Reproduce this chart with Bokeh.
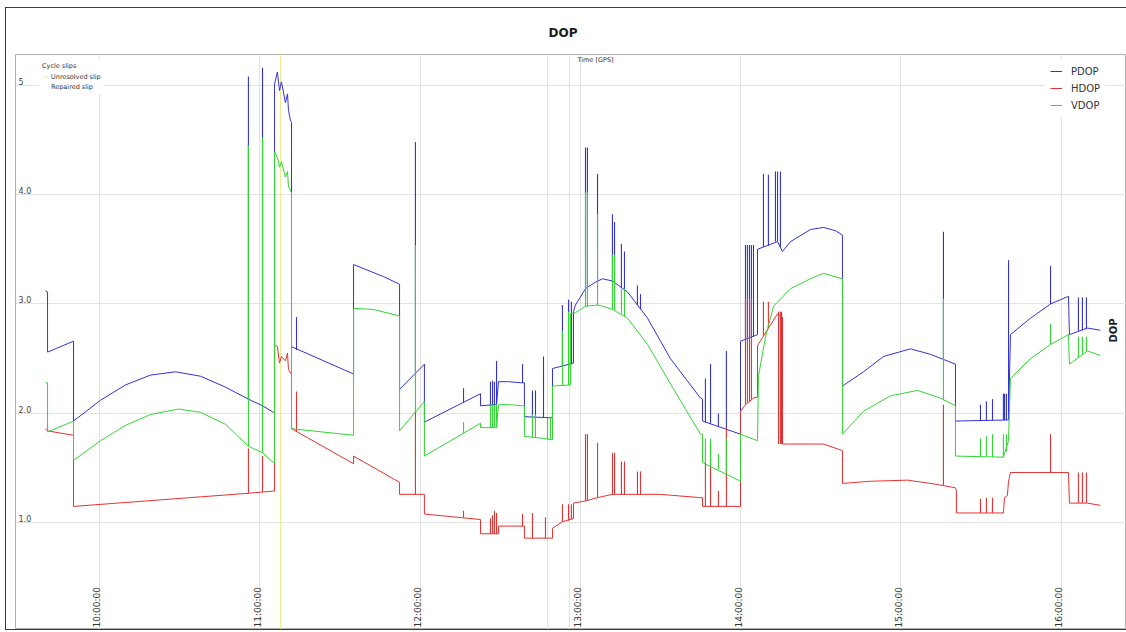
import math
from bokeh.plotting import figure
from bokeh.models import Range1d, Grid, FixedTicker, Legend, LegendItem, Label
from bokeh.core.properties import value
from bokeh.embed import file_html
from bokeh.resources import INLINE

FONT = "DejaVu Sans"

# ---------------- data (time in GPS hours, DOP values) ----------------
hour_ticks = [10, 11, 12, 13, 14, 15, 16]
hour_labels = ["10:00:00", "11:00:00", "12:00:00", "13:00:00", "14:00:00", "15:00:00", "16:00:00"]
dop_ticks = [5, 4, 3, 2, 1]
dop_labels = ["5", "4.0", "3.0", "2.0", "1.0"]

pdop_t = [9.663, 9.676, 9.676, 9.838, 9.838, 10.006, 10.162, 10.318, 10.474, 10.630, 10.786, 10.929, 11.017,
          11.085, 11.092, 11.092, 11.110, 11.123, 11.135, 11.160, 11.173, 11.179, 11.191, 11.198, 11.198, 11.585,
          11.585, 11.772, 11.872, 11.872, 12.027, 12.027, 12.377, 12.377, 12.477, 12.489, 12.552, 12.626, 12.651,
          12.651, 12.813, 12.826, 12.826, 12.957, 12.957, 12.969, 13.032, 13.094, 13.138, 13.200, 13.294, 13.419,
          13.562, 13.749, 13.762, 13.762, 13.999, 13.999, 14.105, 14.105, 14.230, 14.261, 14.311, 14.435, 14.516,
          14.591, 14.635, 14.635, 14.766, 14.891, 15.059, 15.184, 15.340, 15.340, 15.671, 15.683, 15.808, 15.933,
          16.045, 16.051, 16.163, 16.244]
pdop_v = [3.12, 3.11, 2.56, 2.66, 1.93, 2.12, 2.26, 2.35, 2.38, 2.34, 2.24, 2.13, 2.07,
          2.01, 2.01, 5.01, 5.12, 4.95, 5.03, 4.84, 4.92, 4.77, 4.68, 4.66, 2.61, 2.36,
          3.36, 3.25, 3.18, 2.22, 2.45, 1.92, 2.18, 2.07, 2.08, 2.29, 2.29, 2.28, 2.28,
          1.97, 1.96, 1.96, 2.41, 2.46, 2.93, 2.99, 3.14, 3.20, 3.23, 3.21, 3.11, 2.87,
          2.50, 2.14, 2.13, 1.93, 1.81, 2.66, 2.72, 3.50, 3.57, 3.48, 3.57, 3.68, 3.70,
          3.67, 3.63, 2.25, 2.38, 2.52, 2.59, 2.54, 2.45, 1.93, 1.94, 2.72, 2.87, 3.00,
          3.07, 2.72, 2.78, 2.76]
pdop_spike_t = [10.929, 11.017, 11.229, 11.971, 12.271, 12.439, 12.452, 12.464, 12.477, 12.639, 12.701, 12.720,
                12.770, 12.888, 12.926, 12.944, 13.032, 13.044, 13.107, 13.200, 13.213, 13.256, 13.275, 13.356,
                13.375, 13.780, 13.812, 13.861, 13.911, 14.030, 14.042, 14.055, 14.067, 14.080,
                14.142, 14.173, 14.217, 14.230, 14.248, 15.265, 15.496, 15.533, 15.571, 15.639,
                15.646, 15.658, 15.671, 15.933, 16.107, 16.132, 16.157]
pdop_spike_lo = [2.13, 2.07, 2.58, 2.37, 2.10, 2.07, 2.07, 2.08, 2.08, 2.28, 1.97, 1.97,
                 1.96, 2.43, 2.44, 2.45, 3.14, 3.15, 3.21, 3.21, 3.20, 3.15, 3.13, 2.99,
                 2.95, 1.92, 1.91, 1.88, 1.86, 2.68, 2.68, 2.69, 2.70, 2.70,
                 3.52, 3.53, 3.57, 3.57, 3.52, 2.49, 1.93, 1.93, 1.94, 1.94,
                 1.94, 1.94, 1.94, 3.00, 2.75, 2.76, 2.77]
pdop_spike_hi = [5.08, 5.16, 2.88, 4.48, 2.23, 2.29, 2.30, 2.29, 2.48, 2.45, 2.21, 2.21,
                 2.52, 2.99, 3.04, 3.02, 4.43, 4.43, 4.19, 3.82, 3.75, 3.55, 3.48, 3.17,
                 3.09, 2.32, 2.45, 2.00, 2.57, 3.54, 3.54, 3.54, 3.54, 3.54,
                 4.19, 4.18, 4.21, 4.21, 4.21, 3.66, 2.08, 2.11, 2.13, 2.18,
                 2.18, 2.18, 3.40, 3.35, 3.06, 3.06, 3.06]

hdop_t = [9.663, 9.676, 9.838, 9.838, 10.474, 10.929, 11.085, 11.092, 11.092, 11.110, 11.123, 11.135, 11.160,
          11.173, 11.179, 11.198, 11.198, 11.585, 11.585, 11.872, 11.872, 12.027, 12.027, 12.377, 12.377, 12.489,
          12.489, 12.651, 12.651, 12.826, 12.826, 12.888, 12.957, 12.957, 13.032, 13.107, 13.200, 13.500, 13.749,
          13.762, 13.762, 13.999, 13.999, 14.030, 14.080, 14.105, 14.105, 14.230, 14.261, 14.261, 14.516, 14.635,
          14.635, 14.810, 15.041, 15.184, 15.265, 15.340, 15.346, 15.346, 15.639, 15.646, 15.664, 15.671, 15.683,
          16.045, 16.051, 16.163, 16.244]
hdop_v = [1.86, 1.84, 1.80, 1.15, 1.22, 1.27, 1.29, 1.29, 2.63, 2.61, 2.46, 2.52, 2.48,
          2.55, 2.40, 2.36, 1.86, 1.54, 1.61, 1.37, 1.26, 1.26, 1.08, 1.03, 0.90, 0.90,
          0.97, 0.97, 0.86, 0.86, 0.95, 1.01, 1.04, 1.18, 1.20, 1.23, 1.26, 1.26, 1.23,
          1.23, 1.15, 1.15, 2.02, 2.08, 2.14, 2.15, 2.62, 2.91, 2.88, 1.72, 1.72, 1.66,
          1.36, 1.38, 1.39, 1.36, 1.34, 1.32, 1.29, 1.09, 1.09, 1.23, 1.25, 1.38, 1.46,
          1.46, 1.18, 1.18, 1.16]
hdop_spike_t = [10.929, 11.017, 11.229, 11.971, 12.271, 12.439, 12.452, 12.464, 12.477, 12.639, 12.701, 12.782,
                12.888, 12.926, 12.944, 13.032, 13.044, 13.107, 13.200, 13.213, 13.256, 13.275, 13.356, 13.375,
                13.780, 13.812, 13.861, 13.911, 14.030, 14.042, 14.055, 14.067,
                14.142, 14.173, 14.236, 14.248, 14.255, 15.265, 15.496, 15.533, 15.571, 15.933, 16.107, 16.132,
                16.157]
hdop_spike_lo = [1.27, 1.28, 1.83, 1.26, 1.05, 0.90, 0.90, 0.90, 0.90, 0.97, 0.86, 0.86,
                 1.01, 1.02, 1.03, 1.20, 1.20, 1.23, 1.26, 1.26, 1.26, 1.26, 1.26, 1.26,
                 1.15, 1.15, 1.15, 1.15, 2.08, 2.10, 2.11, 2.13,
                 2.71, 2.78, 1.72, 1.72, 1.72, 1.34, 1.09, 1.09, 1.09, 1.46, 1.18, 1.18,
                 1.18]
hdop_spike_hi = [1.68, 1.61, 2.20, 2.02, 1.11, 1.04, 1.07, 1.11, 1.09, 1.08, 1.09, 1.05,
                 1.17, 1.17, 1.17, 1.81, 1.81, 1.73, 1.64, 1.64, 1.56, 1.56, 1.47, 1.47,
                 1.56, 1.75, 1.29, 1.87, 3.05, 3.05, 3.05, 3.05,
                 3.02, 3.02, 2.93, 2.93, 2.93, 2.08, 1.22, 1.23, 1.23, 1.81, 1.46, 1.46,
                 1.46]

vdop_t = [9.663, 9.676, 9.676, 9.838, 9.838, 10.006, 10.162, 10.318, 10.493, 10.630, 10.786, 10.929, 11.017,
          11.085, 11.092, 11.092, 11.110, 11.123, 11.135, 11.160, 11.173, 11.179, 11.198, 11.198, 11.585, 11.585,
          11.709, 11.872, 11.872, 12.027, 12.027, 12.377, 12.377, 12.477, 12.489, 12.552, 12.639, 12.651, 12.651,
          12.782, 12.813, 12.826, 12.826, 12.938, 12.938, 12.969, 13.032, 13.107, 13.138, 13.200, 13.294, 13.419,
          13.562, 13.749, 13.762, 13.762, 13.999, 13.999, 14.105, 14.111, 14.155, 14.205, 14.311, 14.435, 14.516,
          14.635, 14.635, 14.766, 14.934, 15.103, 15.246, 15.340, 15.340, 15.639, 15.671, 15.683, 15.808, 15.933,
          16.045, 16.051, 16.163, 16.244]
vdop_v = [2.28, 2.28, 1.83, 1.93, 1.57, 1.75, 1.89, 1.99, 2.04, 2.01, 1.90, 1.70, 1.64,
          1.55, 1.55, 4.39, 4.34, 4.25, 4.30, 4.16, 4.21, 4.07, 4.02, 1.86, 1.80, 2.96,
          2.95, 2.89, 1.84, 2.11, 1.61, 1.91, 1.87, 1.87, 2.08, 2.08, 2.07, 2.07, 1.79,
          1.77, 1.76, 1.76, 2.25, 2.26, 2.91, 2.92, 2.98, 2.99, 2.98, 2.95, 2.87, 2.63,
          2.27, 1.81, 1.81, 1.55, 1.38, 1.81, 1.75, 2.34, 2.70, 2.98, 3.14, 3.23, 3.28,
          3.23, 1.81, 2.02, 2.16, 2.21, 2.14, 2.07, 1.61, 1.60, 1.75, 2.32, 2.50, 2.63,
          2.72, 2.45, 2.57, 2.53]
vdop_spike_t = [10.929, 11.017, 11.971, 12.271, 12.439, 12.452, 12.464, 12.477, 12.701, 12.720, 12.795, 12.813,
                12.888, 12.926, 13.032, 13.044, 13.107, 13.200, 13.213, 13.256, 13.275, 13.780, 13.812, 13.861,
                13.911, 15.265, 15.496, 15.533, 15.571, 15.639, 15.658, 15.933, 16.107, 16.132, 16.157]
vdop_spike_lo = [1.70, 1.64, 2.01, 1.82, 1.87, 1.87, 1.87, 1.87, 1.78, 1.78, 1.76, 1.76,
                 2.25, 2.26, 2.98, 2.98, 2.99, 2.95, 2.94, 2.91, 2.89, 1.54, 1.52, 1.49,
                 1.46, 2.12, 1.61, 1.61, 1.60, 1.60, 1.65, 2.63, 2.51, 2.54, 2.56]
vdop_spike_hi = [4.45, 4.52, 3.54, 1.92, 2.08, 2.08, 2.08, 2.08, 1.99, 1.99, 1.96, 1.96,
                 2.75, 2.93, 4.02, 4.02, 3.82, 3.45, 3.45, 3.14, 3.14, 1.77, 1.77, 1.63,
                 1.77, 3.05, 1.77, 1.79, 1.81, 1.81, 1.81, 2.82, 2.70, 2.70, 2.70]

unresolved_slip_t = [11.129, 12.795, 12.932]
repaired_slip_t = []

# ---------------- styling ----------------
X_MIN, X_MAX = 9.476, 16.407
Y_MIN, Y_MAX = 0.025, 5.28
BLUE, RED, GREEN = "#3232d4", "#e43232", "#32d632"
SLIP_COLOR = "#ecec8c"

p = figure(width=1120, height=621,
           x_range=Range1d(X_MIN, X_MAX), y_range=Range1d(Y_MIN, Y_MAX),
           x_axis_type=None, y_axis_type=None,
           toolbar_location=None, output_backend="svg",
           min_border_left=9, min_border_right=0, min_border_top=44, min_border_bottom=0,
           background_fill_color="white", border_fill_color="white",
           outline_line_color="#b0b0b0", outline_line_width=1,
           styles={"margin-left": "6px", "margin-top": "8px",
                   "outline": "1.5px solid #3a3a3a"})

p.title.text = "DOP"
p.title.align = "left"
p.title.offset = 533
p.title.text_font = FONT
p.title.text_font_size = "12px"
p.title.text_font_style = "bold"
p.title.text_color = "#1e1e1e"
p.title.standoff = 30

p.add_layout(Grid(dimension=0, ticker=FixedTicker(ticks=hour_ticks),
                  grid_line_color="#e2e2e2", grid_line_width=1))
p.add_layout(Grid(dimension=1, ticker=FixedTicker(ticks=dop_ticks),
                  grid_line_color="#e2e2e2", grid_line_width=1))

n_s = len(unresolved_slip_t)
slip_r = p.segment(x0=unresolved_slip_t, x1=unresolved_slip_t,
                   y0=[Y_MIN] * n_s, y1=[Y_MAX] * n_s,
                   line_color=SLIP_COLOR, line_width=1)
rep_r = p.segment(x0=repaired_slip_t, x1=repaired_slip_t, y0=[], y1=[],
                  line_color="#ffffff", line_width=1)

r_p = p.line(pdop_t, pdop_v, line_color=BLUE, line_width=1)
p.segment(x0=pdop_spike_t, x1=pdop_spike_t, y0=pdop_spike_lo, y1=pdop_spike_hi,
          line_color=BLUE, line_width=1.1)
r_h = p.line(hdop_t, hdop_v, line_color=RED, line_width=1)
p.segment(x0=hdop_spike_t, x1=hdop_spike_t, y0=hdop_spike_lo, y1=hdop_spike_hi,
          line_color=RED, line_width=1.1)
r_v = p.line(vdop_t, vdop_v, line_color=GREEN, line_width=1)
p.segment(x0=vdop_spike_t, x1=vdop_spike_t, y0=vdop_spike_lo, y1=vdop_spike_hi,
          line_color=GREEN, line_width=1.1)

# tick labels drawn inside the frame
p.text(x=[X_MIN] * len(dop_ticks), y=dop_ticks, text=dop_labels,
       x_offset=3, y_offset=-4, text_font=value(FONT), text_font_size="8px",
       text_color="#444444", text_align="left", text_baseline="middle")
p.text(x=hour_ticks, y=[Y_MIN] * len(hour_ticks), text=hour_labels,
       angle=math.pi / 2, x_offset=-2, y_offset=-2,
       text_font=value(FONT), text_font_size="9px", text_color="#333333",
       text_align="left", text_baseline="middle")

p.add_layout(Label(x=580, y=570, x_units="screen", y_units="screen", text="Time [GPS]",
                   text_font=FONT, text_font_size="6.5px", text_color="#333333",
                   text_align="center", text_baseline="middle"))
p.add_layout(Label(x=1098, y=299, x_units="screen", y_units="screen", text="DOP",
                   angle=math.pi / 2, text_font=FONT, text_font_size="10px",
                   text_font_style="bold", text_color="#222222",
                   text_align="center", text_baseline="middle"))

legend_main = Legend(items=[LegendItem(label="PDOP", renderers=[r_p]),
                            LegendItem(label="HDOP", renderers=[r_h]),
                            LegendItem(label="VDOP", renderers=[r_v])],
                     location=(1030, 512), padding=5, spacing=3, margin=0,
                     label_height=14, glyph_height=14, glyph_width=12, label_standoff=9,
                     label_text_font=FONT, label_text_font_size="10px", label_text_color="#333333",
                     background_fill_color="white", background_fill_alpha=1.0,
                     border_line_alpha=0)
p.add_layout(legend_main)

legend_slips = Legend(title="Cycle slips",
                      items=[LegendItem(label="Unresolved slip", renderers=[slip_r]),
                             LegendItem(label="Repaired slip", renderers=[rep_r])],
                      location=(24, 535), padding=3, spacing=1, margin=0,
                      label_height=9, glyph_height=9, glyph_width=6, label_standoff=3,
                      title_standoff=2,
                      title_text_font=FONT, title_text_font_size="6.5px", title_text_font_style="normal",
                      title_text_color="#333333",
                      label_text_font=FONT, label_text_font_size="6.5px", label_text_color="#333333",
                      background_fill_color="white", background_fill_alpha=1.0,
                      border_line_alpha=0)
p.add_layout(legend_slips)

open("out.html", "w").write(file_html(p, INLINE))
